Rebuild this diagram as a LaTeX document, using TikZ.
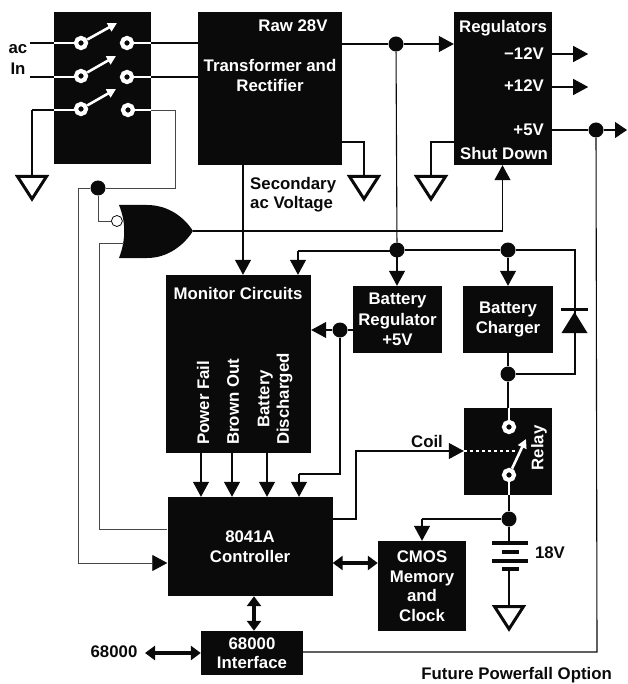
\documentclass[tikz,border=0pt]{standalone}
\usepackage{fontspec}
\setmainfont{Liberation Sans}
\usepackage{xcolor}
\usetikzlibrary{arrows.meta, calc}
\definecolor{cink}{HTML}{0A0A0A}

\begin{document}
\begin{tikzpicture}[
    x=1pt, y=-1pt,
    font=\fontsize{16.8}{19.5}\selectfont\bfseries,
    >={Triangle[length=15pt,width=16pt,color=cink]},
    box/.style={
        rectangle, fill=cink, text=white, draw=none, align=center, inner sep=0pt
    },
    ring/.style={circle, draw=white, line width=4.2pt, fill=cink, minimum size=10pt, inner sep=0pt},
    dot/.style={circle, fill=cink, minimum size=15pt, inner sep=0pt},
    lbl/.style={text=cink, align=left, inner sep=0pt},
    wlbl/.style={text=white, inner sep=0pt},
    vlbl/.style={text=white, rotate=90, anchor=west, align=center, inner sep=0pt},
    wire/.style={line width=1.1pt, draw=cink},
    feed/.style={line width=.7pt, draw=cink!75},
    arr/.style={->, line width=1.1pt, draw=cink},
    wwire/.style={line width=1.2pt, draw=white},
    blade/.style={-{Triangle[length=9pt,width=9pt]}, line width=2.6pt, draw=white, fill=white},
    bus/.style={{Triangle[length=10pt,width=14pt]}-{Triangle[length=10pt,width=14pt]}, line width=3.4pt, draw=cink, fill=cink},
    gnd/.pic={
        \coordinate (top) at (0,0);
        \draw[line width=3pt, draw=cink, fill=white, miter limit=10]
            (-14.5,1.5) -- (14.5,1.5) -- (0,24) -- cycle;
    },
]
\useasboundingbox (0,0) rectangle (627,684);

% --- Blocks ----------------------------------------------------------
\node[box, minimum width=97pt,  minimum height=152pt] (swbox)   at (102.5, 88)  {};
\node[box, minimum width=144pt, minimum height=153pt] (xfmr)    at (270, 88.5)  {};
\node[box, minimum width=98pt,  minimum height=153pt] (regs)    at (503, 88.5)  {};
\node[box, minimum width=145pt, minimum height=178pt] (moni)    at (238.5, 364) {};
\node[box, minimum width=89pt,  minimum height=67pt]  (batreg)  at (397.5, 319.5) {Battery\\[1pt]Regulator\\[1pt]+5V};
\node[box, minimum width=90pt,  minimum height=67pt]  (charger) at (508, 319.5) {Battery\\Charger};
\node[box, minimum width=88pt,  minimum height=87pt]  (relay)   at (508, 451.5) {};
\node[box, minimum width=165pt, minimum height=99pt]  (ctrl)    at (250, 546.5) {8041A\\Controller};
\node[box, minimum width=88pt,  minimum height=90pt]  (cmos)    at (422, 586)   {CMOS\\Memory\\and\\Clock};
\node[box, minimum width=102pt, minimum height=44pt]  (iface)   at (252, 653)   {68000\\Interface};

% --- Text inside the blocks ------------------------------------------
\node[wlbl] (rawlbl)  at (293, 26) {Raw 28V};
\node[wlbl, align=center] (xfmrlbl) at (270, 75.5) {Transformer and\\Rectifier};
\node[wlbl] (regslbl) at (503, 28) {Regulators};
\node[wlbl, anchor=east] (m12lbl) at (544, 54)  {−12V};
\node[wlbl, anchor=east] (p12lbl) at (544, 86)  {+12V};
\node[wlbl, anchor=east] (p5lbl)  at (544, 130) {+5V};
\node[wlbl] (sdlbl)   at (504, 153) {Shut Down};
\node[wlbl] (monilbl) at (238, 293) {Monitor Circuits};
\node[vlbl] (pflbl) at (203, 445) {Power Fail};
\node[vlbl] (bolbl) at (233, 445) {Brown Out};
\node[vlbl] (bdlbl) at (275, 445) {Battery\\Discharged};
\node[wlbl, rotate=90] (relaylbl) at (539, 448) {Relay};

% --- Text outside the blocks -----------------------------------------
\node[lbl] (aclbl) at (18, 49) {ac};
\node[lbl] (inlbl) at (18, 69) {In};
\node[lbl, anchor=north west] (seclbl) at (250, 177) {Secondary\\ac Voltage};
\node[lbl] (coillbl) at (427, 441) {Coil};
\node[lbl] (vbatlbl) at (550, 553) {18V};
\node[lbl] (hostlbl) at (114, 652) {68000};
\node[lbl, anchor=east] (futlbl) at (612, 675) {Future Powerfall Option};

% --- Junctions and bends ---------------------------------------------
\node[dot] (jraw)  at (396, 44)  {};
\node[dot] (jbus)  at (397, 250) {};
\node[dot] (jchg)  at (508, 250) {};
\node[dot] (jrel)  at (508, 374) {};
\node[dot] (jreg)  at (340, 330) {};
\node[dot] (jbat)  at (509, 519) {};
\node[dot] (jfive) at (596, 130) {};
\node[dot] (jsw)   at (98, 188)  {};

\coordinate (acA)  at (30, 43);
\coordinate (acB)  at (30, 77);
\coordinate (swG)  at (32, 110);
\coordinate (swT)  at (175, 110);
\coordinate (swB)  at (175, 188);
\coordinate (lefA) at (78, 188);
\coordinate (lefB) at (78, 563);
\coordinate (nA)   at (98, 221);
\coordinate (nB)   at (124, 243);
\coordinate (nC)   at (99, 243);
\coordinate (nC2)  at (99, 529);
\coordinate (nY)   at (193, 231);
\coordinate (sdn)  at (502.5, 231);
\coordinate (mon2) at (298, 251);
\coordinate (sen1) at (340, 474);
\coordinate (sen2) at (299, 474);
\coordinate (coil1) at (356, 519);
\coordinate (coil2) at (356, 451);
\coordinate (pfl1) at (597, 652);
\coordinate (dio)  at (575, 250);
\coordinate (dio2) at (575, 374);

% --- Grounds ---------------------------------------------------------
\pic (gsw)  at (32, 175)  {gnd};
\pic (gxf)  at (364, 175) {gnd};
\pic (grg)  at (431, 175) {gnd};
\pic (gbat) at (509, 605) {gnd};

% --- Power switch ----------------------------------------------------
\draw[wire] (acA) -- (swbox.west |- acA);
\draw[wire] (acB) -- (swbox.west |- acB);
\draw[wire] (swG) -- (swbox.west |- swG);
\draw[wire] (swG) -- (gswtop);

\draw[wwire] (swbox.west |- 0,43) -- (81,43);
\draw[wwire] (swbox.west |- 0,77) -- (81,77);
\draw[wwire] (swbox.west |- 0,110) -- (81,110);
\draw[wwire] (127,43) -- (swbox.east |- 0,43);
\draw[wwire] (127,77) -- (swbox.east |- 0,77);
\draw[wwire] (128,110) -- (swbox.east |- 0,110);
\node[ring] (sl1) at (81, 43)  {};
\node[ring] (sl2) at (81, 76)  {};
\node[ring] (sl3) at (81, 109) {};
\node[ring] (sr1) at (127, 43)  {};
\node[ring] (sr2) at (127, 77)  {};
\node[ring] (sr3) at (128, 110) {};
\draw[blade] (sl1) -- ($(sl1)+(36,-20)$);
\draw[blade] (sl2) -- ($(sl2)+(35,-20)$);
\draw[blade] (sl3) -- ($(sl3)+(35,-20)$);

\draw[wire] (swbox.east |- sr1) -- (xfmr.west |- sr1);
\draw[wire] (swbox.east |- sr2) -- (xfmr.west |- sr2);
\draw[feed] (swbox.east |- sr3) -- (swT) -- (swB) -- (jsw);
\draw[feed] (jsw) -- (lefA) -- (lefB);
\draw[feed, ->] (lefB) -- (ctrl.west |- lefB);

% --- NOR gate --------------------------------------------------------
\fill[cink] (119,205) -- (147,205) .. controls (168,205) and (184,217) .. (nY)
    .. controls (184,245) and (168,258) .. (147,258) -- (119,258)
    .. controls (126,240) and (126,222) .. cycle;
\draw[feed] (jsw) -- (nA) -- ++(13,0) node[circle, draw=cink, line width=.8pt, fill=white, minimum size=11pt, inner sep=0pt, anchor=west] (nbub) {};
\draw[feed] (nB) -- (nC) -- (nC2) -- (ctrl.west |- nC2);
\draw[wire] (nY) -- (sdn);
\draw[arr] (sdn) -- (regs.south -| sdn);

% --- Raw supply and regulators ---------------------------------------
\draw[wire] (xfmr.east |- jraw) -- (jraw);
\draw[arr] (jraw) -- (regs.west |- jraw);
\draw[wire] (jraw) -- (jbus);
\draw[arr] (xfmr.south -| 243,0) -- (moni.north -| 243,0);
\draw[wire] (xfmr.east |- 0,142) -| (gxftop);
\draw[wire] (regs.west |- 0,142) -| (grgtop);
\draw[arr] (regs.east |- 0,54) -- ++(36,0);
\draw[arr] (regs.east |- 0,87) -- ++(36,0);
\draw[wire] (regs.east |- jfive) -- (jfive);
\draw[arr, -{Triangle[length=12pt,width=16pt,color=cink]}] (jfive) -- (627,130);
\draw[wire] (jfive) -- (pfl1) -- (iface.east |- pfl1);

% --- Battery bus -----------------------------------------------------
\draw[wire] (jbus) -- (mon2 -| jbus) -- (mon2);
\draw[arr] (mon2) -- (moni.north -| mon2);
\draw[arr] (jbus) -- (batreg.north -| jbus);
\draw[wire] (jbus) -- (jchg);
\draw[arr] (jchg) -- (charger.north -| jchg);
\draw[wire] (jchg) -- (dio) -- (dio2) -- (jrel);
\draw[wire] (charger.south -| jrel) -- (jrel);
\draw[wire] (jrel) -- (relay.north -| jrel);
% diode on the return
\fill[cink] (574.5,312) -- (587.5,333) -- (561.5,333) -- cycle;
\draw[line width=3pt, draw=cink] (561,309) -- (588,309);

% --- Monitor and controller ------------------------------------------
\draw[wire] (batreg.west |- jreg) -- (jreg);
\draw[arr] (jreg) -- (moni.east |- jreg);
\draw[wire] (jreg) -- (sen1) -- (sen2);
\draw[arr] (sen2) -- (ctrl.north -| sen2);
\draw[arr] (moni.south -| 201,0) -- (ctrl.north -| 201,0);
\draw[arr] (moni.south -| 232,0) -- (ctrl.north -| 232,0);
\draw[arr] (moni.south -| 267,0) -- (ctrl.north -| 267,0);
\draw[bus] (ctrl.east |- 0,563) -- (cmos.west |- 0,563);
\draw[bus] (ctrl.south -| 254,0) -- (iface.north -| 254,0);
\draw[bus] (145,653) -- (iface.west |- 0,653);

% --- Relay -----------------------------------------------------------
\draw[wwire] (relay.north -| 509,0) -- (509,427);
\draw[wwire] (509,475) -- (relay.south -| 509,0);
\node[ring] (rl1) at (509, 427) {};
\node[ring] (rl2) at (509, 475) {};
\draw[blade] (rl2) -- (526, 439);
\draw[wire] (ctrl.east |- coil1) -- (coil1) -- (coil2) -- ++(80,0);
\draw[arr] (coil2) -- (relay.west |- coil2);
\draw[line width=1.4pt, draw=white, dashed] (relay.west |- coil2) -- (515, 451);

% --- Battery and CMOS feed -------------------------------------------
\draw[wire] (relay.south -| jbat) -- (jbat);
\draw[wire] (jbat) -- (jbat -| cmos.north) coordinate (cmf);
\draw[arr] (cmf) -- (cmos.north);
\draw[wire] (jbat) -- (gbattop);
\draw[line width=4pt, draw=white] (509, 545) -- (509, 567);
\draw[line width=3.4pt, draw=cink] (492, 543) -- (528, 543);
\draw[line width=3.4pt, draw=cink] (502, 552) -- (519, 552);
\draw[line width=3.4pt, draw=cink] (492, 561) -- (528, 561);
\draw[line width=3.4pt, draw=cink] (502, 569) -- (519, 569);

\end{tikzpicture}
\end{document}
